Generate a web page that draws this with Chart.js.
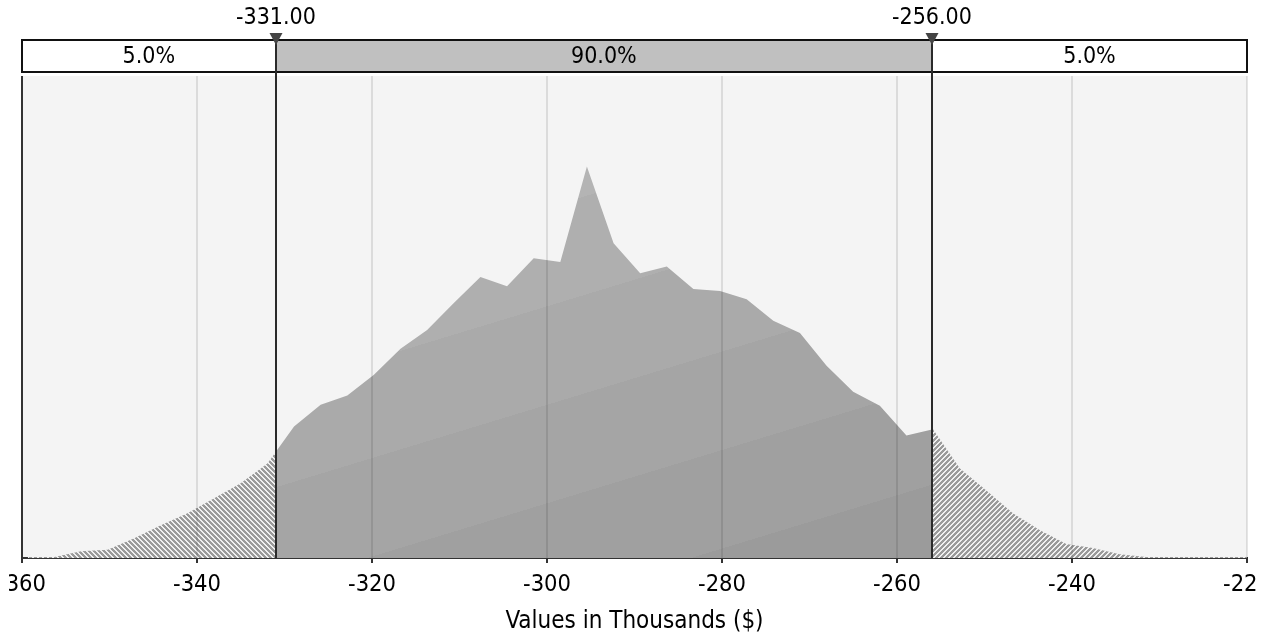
<!DOCTYPE html>
<html>
<head>
<meta charset="utf-8">
<script src="https://cdn.jsdelivr.net/npm/chart.js@4/dist/chart.umd.min.js"></script>
<style>
  body { margin: 0; background: #fff; }
  #wrap { width: 1272px; height: 636px; }
</style>
</head>
<body>
<div id="wrap"><canvas id="distChart" width="1272" height="636"></canvas></div>
<script>
"use strict";
const FONT = "'DejaVu Sans Condensed', 'DejaVu Sans', sans-serif";

// bin centres (thousands $) and relative frequency
const xValues = [
  -359.34, -356.30, -353.25, -350.21, -347.17, -344.13, -341.08, -338.04, -335.00, -331.95,
  -328.91, -325.87, -322.82, -319.78, -316.74, -313.70, -310.65, -307.61, -304.57, -301.52,
  -298.48, -295.44, -292.39, -289.35, -286.31, -283.27, -280.22, -277.18, -274.14, -271.09,
  -268.05, -265.01, -261.96, -258.92, -255.88, -252.84, -249.79, -246.75, -243.71, -240.66,
  -237.62, -234.58, -231.53, -228.49, -225.45, -222.41, -219.36,
];
const density = [
  0.2, 0.2, 1.4, 1.7, 4.1, 6.8, 9.3, 12.4, 15.5, 19.6,
  27.3, 31.8, 33.7, 38.0, 43.4, 47.3, 52.9, 58.3, 56.4, 62.2,
  61.4, 81.2, 65.3, 59.1, 60.5, 55.8, 55.4, 53.7, 49.2, 46.7,
  39.9, 34.5, 31.6, 25.4, 26.7, 18.6, 14.0, 9.3, 5.8, 2.9,
  2.1, 0.8, 0.2, 0.2, 0.2, 0.2, 0.2,
];
const cutoffs = [-331, -256];
const cutoffLabels = ["-331.00", "-256.00"];
const bandLabels = ["5.0%", "90.0%", "5.0%"];
const xMin = -360;
const xMax = -220;
const xStep = 20;
const axisTitle = "Values in Thousands ($)";

const bandShades = ["#b8b8b8", "#b4b4b4", "#afafaf", "#aaaaaa", "#a5a5a5", "#a0a0a0", "#9b9b9b"];

function makeHatch(dir) {
  const n = 5;
  const c = document.createElement("canvas");
  c.width = n;
  c.height = n;
  const g = c.getContext("2d");
  g.fillStyle = "#9a9a9a";
  g.fillRect(0, 0, n, n);
  for (let x = 0; x < n; x++) {
    for (let y = 0; y < n; y++) {
      const k = dir === "\\" ? (x - y + 2 * n) % n : (x + y) % n;
      if (k === 0 || k === 1) {
        g.fillStyle = "#f0f0f0";
        g.fillRect(x, y, 1, 1);
      }
    }
  }
  return c;
}
const hatchLeft = makeHatch("\\");
const hatchRight = makeHatch("/");

function bandFill(ctx) {
  const chart = ctx.chart;
  const a = chart.chartArea;
  if (!a) return "#aaaaaa";
  const g = chart.ctx.createLinearGradient(a.left + 278, a.top + 10, a.left + 470, a.top + 641);
  const n = bandShades.length;
  bandShades.forEach((c, i) => {
    g.addColorStop(i / n, c);
    g.addColorStop((i + 1) / n, c);
  });
  return g;
}

function hatchFill(canvas) {
  return (ctx) => ctx.chart.ctx.createPattern(canvas, "repeat");
}

// clip each copy of the curve to its own x range (must run before the filler)
const rangeClip = {
  id: "rangeClip",
  beforeDatasetDraw(chart, args) {
    const ds = chart.data.datasets[args.index];
    if (!ds.range) return;
    const x = chart.scales.x;
    const a = chart.chartArea;
    const x0 = ds.range[0] === null ? a.left : x.getPixelForValue(ds.range[0]);
    const x1 = ds.range[1] === null ? a.right : x.getPixelForValue(ds.range[1]);
    const ctx = chart.ctx;
    ctx.save();
    ctx.beginPath();
    ctx.rect(x0, a.top, x1 - x0, a.bottom - a.top);
    ctx.clip();
  },
  afterDatasetDraw(chart, args) {
    const ds = chart.data.datasets[args.index];
    if (ds.range) chart.ctx.restore();
  },
};
const filler = Chart.registry.getPlugin("filler");
Chart.unregister(filler);
Chart.register(rangeClip);
Chart.register(filler);

const decor = {
  id: "decor",
  beforeDraw(chart) {
    const { ctx, chartArea: a } = chart;
    ctx.save();
    ctx.beginPath();
    ctx.rect(9, 0, 1249, chart.height);
    ctx.clip();
    ctx.fillStyle = "#f4f4f4";
    ctx.fillRect(a.left, a.top, a.right - a.left, a.bottom - a.top);
  },
  afterDatasetsDraw(chart) {
    const { ctx, chartArea: a } = chart;
    const x = chart.scales.x;
    ctx.save();
    ctx.strokeStyle = "rgba(0,0,0,0.1)";
    ctx.lineWidth = 2;
    x.ticks.forEach((t) => {
      const px = x.getPixelForValue(t.value);
      if (px <= a.left + 1) return;
      ctx.beginPath();
      ctx.moveTo(px, a.top);
      ctx.lineTo(px, a.bottom);
      ctx.stroke();
    });
    ctx.restore();
  },
  afterDraw(chart) {
    const { ctx, chartArea: a } = chart;
    const x = chart.scales.x;
    const bandTop = 40;
    const bandBottom = 72;
    const edges = [a.left, ...cutoffs.map((v) => x.getPixelForValue(v)), a.right];

    // left edge of plot
    ctx.strokeStyle = "#333";
    ctx.lineWidth = 2;
    ctx.beginPath();
    ctx.moveTo(a.left, a.top);
    ctx.lineTo(a.left, a.bottom);
    ctx.stroke();

    // band boxes
    ctx.font = "23px " + FONT;
    ctx.textAlign = "center";
    ctx.textBaseline = "middle";
    bandLabels.forEach((lab, i) => {
      ctx.fillStyle = i === 1 ? "#c0c0c0" : "#ffffff";
      ctx.fillRect(edges[i], bandTop, edges[i + 1] - edges[i], bandBottom - bandTop);
      ctx.fillStyle = "#000";
      ctx.fillText(lab, (edges[i] + edges[i + 1]) / 2, (bandTop + bandBottom) / 2 + 1);
    });
    ctx.strokeStyle = "#111";
    ctx.lineWidth = 2;
    ctx.strokeRect(a.left, bandTop, a.right - a.left, bandBottom - bandTop);

    // cutoff lines, markers, labels
    ctx.font = "23px " + FONT;
    cutoffs.forEach((v, i) => {
      const px = Math.round(x.getPixelForValue(v));
      ctx.strokeStyle = "#2a2a2a";
      ctx.lineWidth = 2;
      ctx.beginPath();
      ctx.moveTo(px, bandTop);
      ctx.lineTo(px, a.bottom);
      ctx.stroke();
      ctx.fillStyle = "#444";
      ctx.beginPath();
      ctx.moveTo(px - 6.5, 33);
      ctx.lineTo(px + 6.5, 33);
      ctx.lineTo(px, 45);
      ctx.closePath();
      ctx.fill();
      ctx.fillStyle = "#000";
      ctx.fillText(cutoffLabels[i], px, 18);
    });
    ctx.restore();
  },
};

const points = xValues.map((v, i) => ({ x: v, y: density[i] }));

function curve(range, fill) {
  return {
    data: points,
    range: range,
    fill: "origin",
    backgroundColor: fill,
    borderWidth: 0,
    pointRadius: 0,
    tension: 0,
  };
}

const ctx = document.getElementById("distChart").getContext("2d");
const myChart = new Chart(ctx, {
  type: "line",
  data: {
    datasets: [
      curve([null, cutoffs[0]], hatchFill(hatchLeft)),
      curve([cutoffs[0], cutoffs[1]], bandFill),
      curve([cutoffs[1], null], hatchFill(hatchRight)),
    ],
  },
  options: {
    responsive: false,
    devicePixelRatio: 1,
    animation: false,
    layout: { padding: { left: 22, right: 25, top: 76, bottom: 0 } },
    plugins: { legend: { display: false }, tooltip: { enabled: false } },
    scales: {
      x: {
        type: "linear",
        min: xMin,
        max: xMax,
        z: 1,
        ticks: {
          stepSize: xStep,
          padding: 8,
          color: "#000",
          font: { family: FONT, size: 23.5 },
          maxRotation: 0,
        },
        grid: { drawOnChartArea: false, drawTicks: true, tickLength: 5, color: "#333", lineWidth: 2 },
        border: { display: true, color: "#333", width: 2 },
        title: {
          display: true,
          text: axisTitle,
          color: "#000",
          font: { family: FONT, size: 24 },
          padding: { top: 0, bottom: 0 },
        },
        afterFit(scale) {
          scale.paddingLeft = 0;
          scale.paddingRight = 0;
        },
      },
      y: { display: false, min: 0, max: 100 },
    },
  },
  plugins: [decor],
});
</script>
</body>
</html>
